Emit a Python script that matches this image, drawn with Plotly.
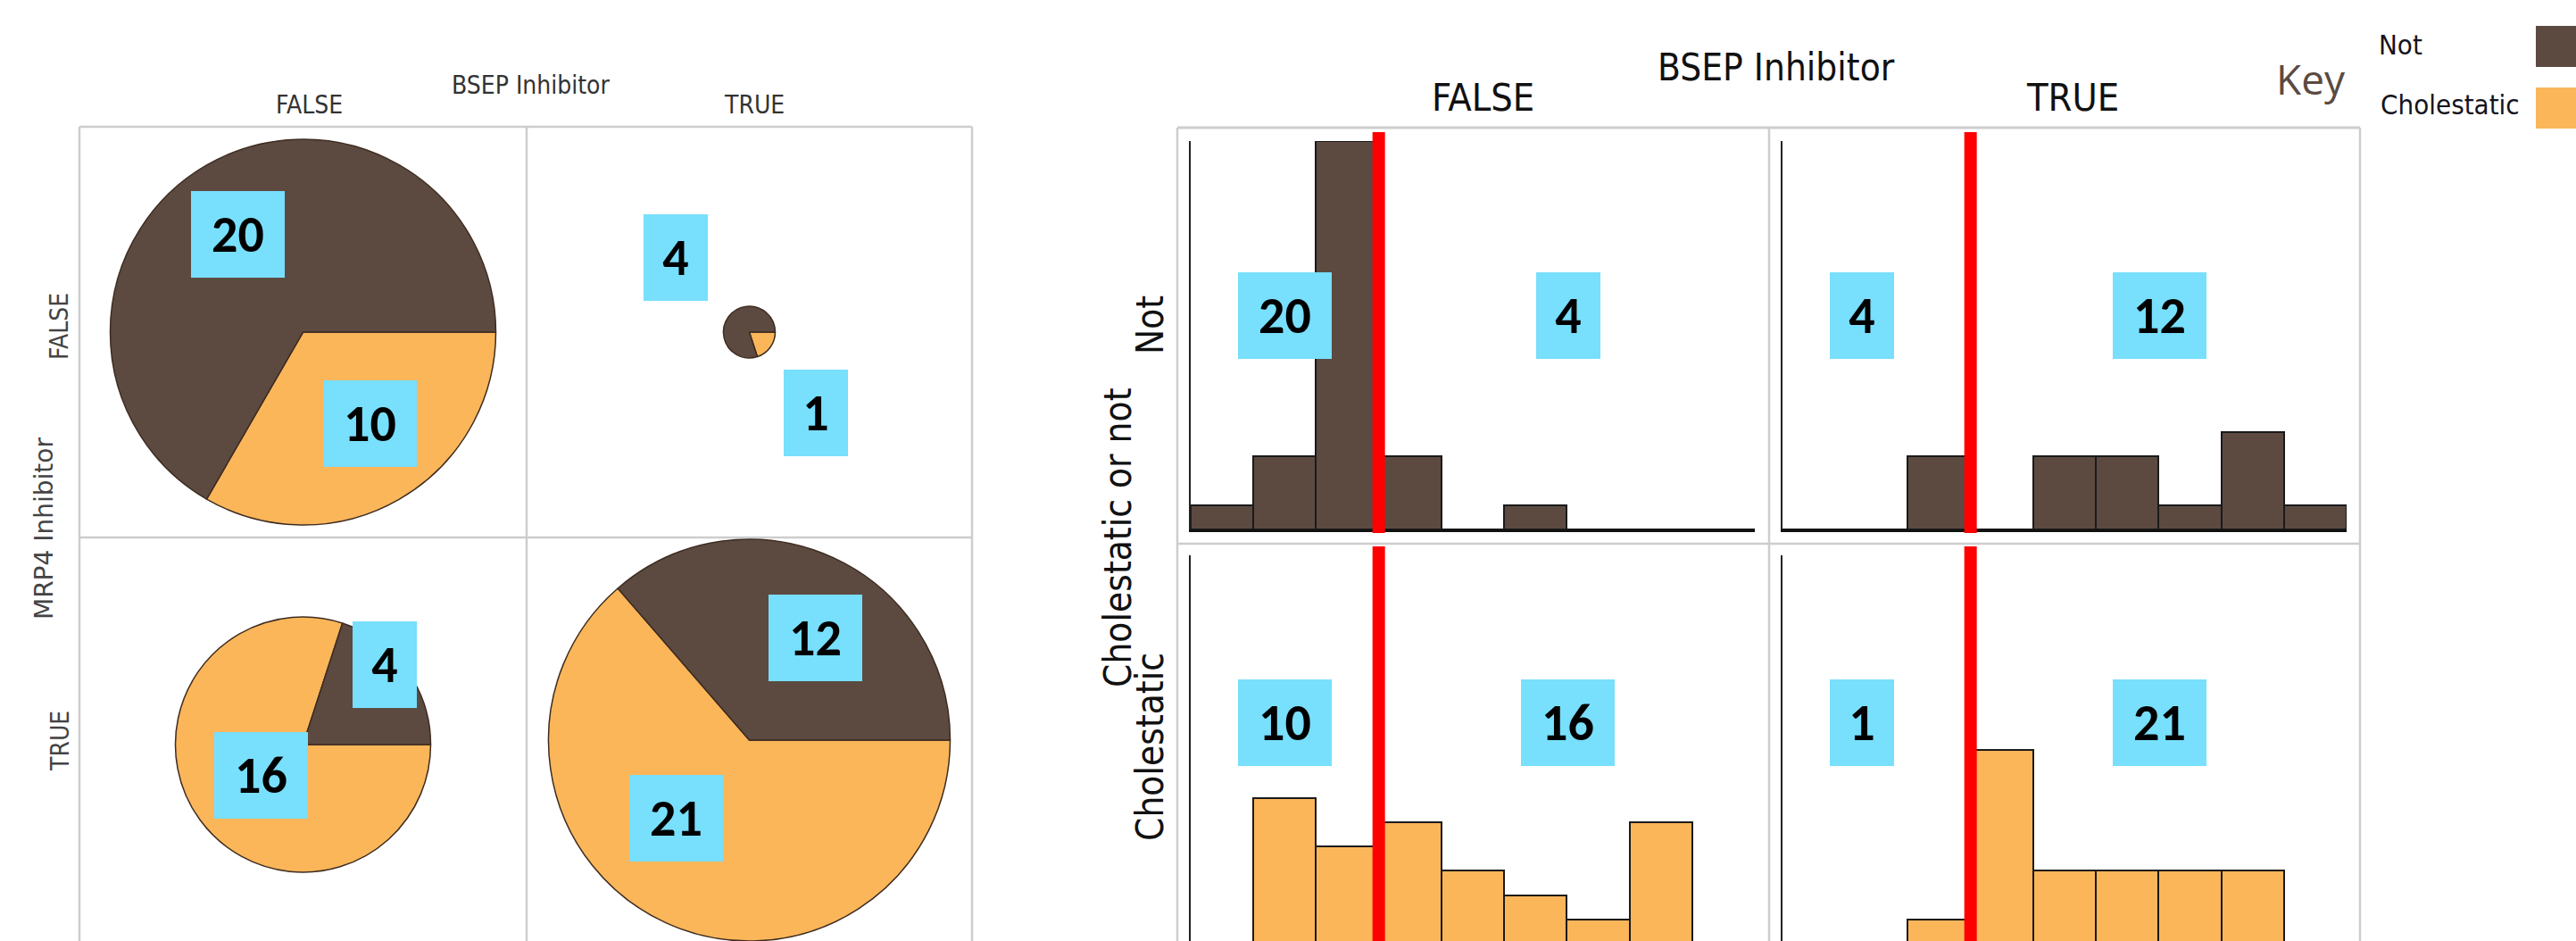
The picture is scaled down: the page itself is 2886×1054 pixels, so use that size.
import plotly.graph_objects as go

# ---------------------------------------------------------------- data
classes = ["Not", "Cholestatic"]
bsep_levels = ["FALSE", "TRUE"]
mrp4_levels = ["FALSE", "TRUE"]

# compound counts per (MRP4 inhibitor, BSEP inhibitor) cell
cell_mrp4 = ["FALSE", "FALSE", "TRUE", "TRUE"]
cell_bsep = ["FALSE", "TRUE", "FALSE", "TRUE"]
cell_not = [20, 4, 4, 12]
cell_chol = [10, 1, 16, 21]

# histogram bins (MRP4 potency bins), counts per class and BSEP level
bin_index = [1, 2, 3, 4, 5, 6, 7, 8, 9]
hist_not_bsep_false = [1, 3, 16, 3, 0, 1, 0, 0, 0]
hist_not_bsep_true = [0, 0, 3, 0, 3, 3, 1, 4, 1]
hist_chol_bsep_false = [0, 6, 4, 5, 3, 2, 1, 5, 0]
hist_chol_bsep_true = [0, 0, 1, 8, 3, 3, 3, 3, 0]
mrp4_cutoff = 3          # bin edge separating MRP4 FALSE (left) from TRUE (right)
hist_ymax = 16

# ---------------------------------------------------------------- style
W, H = 2886, 1054
C_NOT = "#5C4A41"
C_CHOL = "#FBB65A"
C_BOX = "#78DFFC"
C_GRID = "#CDCDCD"
F_COND = "Tahoma, 'DejaVu Sans Condensed', 'Liberation Sans Narrow', Roboto, sans-serif"
F_WIDE = "Verdana, 'DejaVu Sans', sans-serif"
F_NUM = "Calibri, Carlito, Lato, 'Open Sans', sans-serif"
F_KEY = "'Segoe UI', 'Open Sans', sans-serif"


def px(x, y):
    return x / W, 1 - y / H


fig = go.Figure()
annotations = []
shapes = []


def label(text, x, y, size, family, color="#111", angle=0, xanchor="center"):
    ax, ay = px(x, y)
    annotations.append(dict(text=text, x=ax, y=ay, xref="paper", yref="paper",
                            showarrow=False, textangle=angle,
                            xanchor=xanchor, yanchor="middle",
                            font=dict(size=size, family=family, color=color)))


def count_box(text, x, y, xref, yref, xanchor="center"):
    annotations.append(dict(text=f"<b>{text}</b>", x=x, y=y, xref=xref, yref=yref,
                            showarrow=False, xanchor=xanchor, yanchor="middle",
                            width=39 + 33 * len(str(text)), height=97,
                            bgcolor=C_BOX, borderpad=0, borderwidth=0,
                            font=dict(size=58, family=F_NUM, color="#000")))


def gline(x0, y0, x1, y1, width=2.5):
    a0, b0 = px(x0, y0)
    a1, b1 = px(x1, y1)
    shapes.append(dict(type="line", xref="paper", yref="paper", x0=a0, y0=b0,
                       x1=a1, y1=b1, layer="below",
                       line=dict(color=C_GRID, width=width)))


# ---------------------------------------------------------------- pie grid
P_LEFT, P_MID, P_RIGHT = 89, 590, 1089
P_TOP, P_HMID = 142, 602
pie_col_cx = [339.5, 839.5]
pie_row_cy = [372, 834]
pie_radius = [216, 29, 143, 230]
pie_label_pos = [
    [(266.5, 262.5), (414.5, 474.5)],
    [(756.5, 288.5), (913.5, 462.0)],
    [(430.5, 744.5), (292.0, 868.5)],
    [(913.5, 714.5), (757.0, 916.5)],
]

for i in range(4):
    row = mrp4_levels.index(cell_mrp4[i])
    col = bsep_levels.index(cell_bsep[i])
    cx, cy, r = pie_col_cx[col], pie_row_cy[row], pie_radius[i]
    top, bottom = cy - r, min(cy + r, H)
    # Cholestatic wedge runs clockwise from 3 o'clock, Not fills the rest
    fig.add_trace(go.Pie(
        labels=classes[::-1], values=[cell_chol[i], cell_not[i]],
        sort=False, direction="clockwise", rotation=90,
        textinfo="none", showlegend=False, hoverinfo="label+value",
        marker=dict(colors=[C_CHOL, C_NOT], line=dict(color="#3E2C20", width=1.5)),
        domain=dict(x=[(cx - r) / W, (cx + r) / W], y=[1 - bottom / H, 1 - top / H]),
    ))
    for (lx, ly), val in zip(pie_label_pos[i], [cell_not[i], cell_chol[i]]):
        ax, ay = px(lx, ly)
        count_box(val, ax, ay, "paper", "paper")

gline(P_LEFT, P_TOP, P_RIGHT, P_TOP)
gline(P_LEFT, P_TOP, P_LEFT, H)
gline(P_RIGHT, P_TOP, P_RIGHT, H)
gline(P_MID, P_TOP, P_MID, H)
gline(P_LEFT, P_HMID, P_RIGHT, P_HMID)

label("BSEP Inhibitor", 595, 96, 28, F_COND, "#333")
label("FALSE", 346, 118, 28, F_COND, "#333")
label("TRUE", 845, 118, 28, F_COND, "#333")
label("MRP4 Inhibitor", 49, 592, 28, F_WIDE, "#444", angle=-90)
label("FALSE", 67, 366, 28, F_COND, "#444", angle=-90)
label("TRUE", 67, 830, 28, F_COND, "#444", angle=-90)

# ---------------------------------------------------------------- histogram grid
H_LEFT, H_MID, H_RIGHT = 1319, 1982, 2644
H_TOP, H_HMID = 143, 609
hist_x0 = [1334, 1997]          # left edge of each column's plot area
hist_w = 632                    # plot area width (9 bins)
hist_base = [593, 1057]         # pixel row of zero count per class row
hist_h = 435                    # pixel height of hist_ymax
unit = hist_h / hist_ymax

hist_sets = [hist_not_bsep_false, hist_not_bsep_true,
             hist_chol_bsep_false, hist_chol_bsep_true]
centers = [b - 0.5 for b in bin_index]

for k, counts in enumerate(hist_sets):
    row, col = divmod(k, 2)
    n = "" if k == 0 else str(k + 1)
    base = hist_base[row]
    vis_bottom = min(base, H)
    ylow = (base - vis_bottom) / unit
    top_px = base - hist_h
    fig.add_trace(go.Bar(
        x=centers, y=counts, width=1, xaxis="x" + n, yaxis="y" + n,
        marker=dict(color=[C_NOT, C_CHOL][row], line=dict(color="#1A1A1A", width=2)),
        showlegend=False, name=classes[row],
    ))
    fig.layout["xaxis" + n] = dict(
        domain=[hist_x0[col] / W, (hist_x0[col] + hist_w) / W], range=[0, len(bin_index)],
        anchor="y" + n, showline=(row == 0), linecolor="#111", linewidth=3,
        showticklabels=False, ticks="", showgrid=False, zeroline=False, fixedrange=True)
    fig.layout["yaxis" + n] = dict(
        domain=[1 - vis_bottom / H, 1 - top_px / H], range=[ylow, hist_ymax],
        anchor="x" + n, showline=True, linecolor="#222", linewidth=1.5,
        showticklabels=False, ticks="", showgrid=False, zeroline=False, fixedrange=True)
    # MRP4 cut-off
    span = vis_bottom - top_px
    shapes.append(dict(type="line", xref="x" + n, yref="y" + n + " domain",
                       x0=mrp4_cutoff, x1=mrp4_cutoff,
                       y0=-4 / span, y1=(span + 10) / span,
                       line=dict(color="#FF0000", width=14)))
    # counts either side of the cut-off
    counts_src = [cell_not, cell_chol][row]
    left_val = counts_src[mrp4_levels.index("FALSE") * 2 + col]
    right_val = counts_src[mrp4_levels.index("TRUE") * 2 + col]
    ylab = 8.8 if row == 0 else 9.1
    count_box(left_val, 0.76, ylab, "x" + n, "y" + n, xanchor="left")
    count_box(right_val, 6.02, ylab, "x" + n, "y" + n)

gline(H_LEFT, H_TOP, H_RIGHT, H_TOP, 3)
gline(H_LEFT, H_TOP, H_LEFT, H)
gline(H_RIGHT, H_TOP, H_RIGHT, H)
gline(H_MID, H_TOP, H_MID, H)
gline(H_LEFT, H_HMID, H_RIGHT, H_HMID)

label("BSEP Inhibitor", 1990, 75, 42, F_COND)
label("FALSE", 1661, 109, 43, F_COND)
label("TRUE", 2322, 109, 43, F_COND)
label("Cholestatic or not", 1252, 603, 42, F_COND, angle=-90)
label("Not", 1288, 364, 42, F_COND, angle=-90)
label("Cholestatic", 1288, 837, 42, F_COND, angle=-90)

# ---------------------------------------------------------------- key
label("Key", 2589, 88, 46, F_KEY, "#5B4A42")
label("Not", 2663, 50, 31, F_COND, "#141420", xanchor="left")
label("Cholestatic", 2665, 117, 31, F_COND, "#141420", xanchor="left")
for (y0, y1), colr in zip([(29, 75), (98, 144)], [C_NOT, C_CHOL]):
    a0, b0 = px(2841, y0)
    a1, b1 = px(W, y1)
    shapes.append(dict(type="rect", xref="paper", yref="paper", x0=a0, x1=a1,
                       y0=b1, y1=b0, fillcolor=colr, line=dict(width=0)))

fig.update_layout(
    width=W, height=H, margin=dict(l=0, r=0, t=0, b=0),
    paper_bgcolor="white", plot_bgcolor="rgba(0,0,0,0)",
    bargap=0, annotations=annotations, shapes=shapes, showlegend=False,
)

fig.write_html("out.html", config={"displayModeBar": False})
